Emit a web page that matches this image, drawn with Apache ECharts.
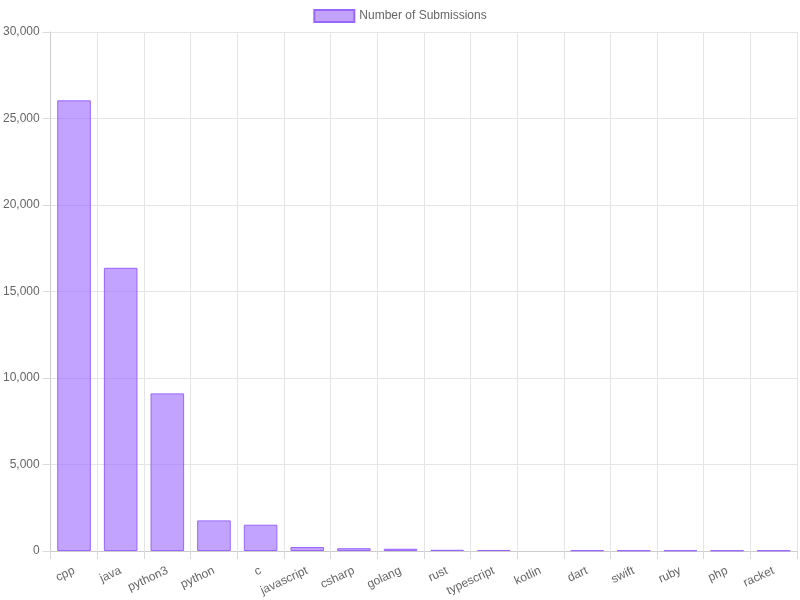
<!DOCTYPE html>
<html>
<head>
<meta charset="utf-8">
<script src="https://cdn.jsdelivr.net/npm/echarts@6/dist/echarts.min.js"></script>
<style>html,body{margin:0;padding:0;background:#fff}#c{width:800px;height:600px}</style>
</head>
<body>
<div id="c"></div>
<script>
const categories = ['cpp','java','python3','python','c','javascript','csharp','golang','rust','typescript','kotlin','dart','swift','ruby','php','racket'];
const submissions = [26050, 16370, 9110, 1770, 1520, 230, 160, 130, 70, 60, 0, 40, 35, 35, 30, 30];
const yTicks = [0, 5000, 10000, 15000, 20000, 25000, 30000];
const seriesName = 'Number of Submissions';

const chart = echarts.init(document.getElementById('c'));
const fontFam = 'Arial, "Liberation Sans", Helvetica, sans-serif';
const barData = submissions.map(v => v === 0
  ? {value: v, itemStyle: {borderWidth: 0}}
  : v);
chart.setOption({
  animation: false,
  textStyle: {fontFamily: fontFam},
  legend: {
    top: 9, left: 'center', padding: 0,
    icon: 'rect',
    itemWidth: 40, itemHeight: 12, itemGap: 10,
    textStyle: {color: '#666', fontSize: 12, fontFamily: fontFam},
    data: [seriesName]
  },
  grid: {left: 50, right: 3, top: 32, bottom: 49, containLabel: false},
  xAxis: {
    type: 'category',
    data: categories,
    boundaryGap: true,
    axisLine: {show: true, lineStyle: {color: '#cccccc', width: 1}},
    axisTick: {show: true, length: 8, inside: false, lineStyle: {color: '#d9d9d9', width: 1}},
    splitLine: {show: true, lineStyle: {color: '#e5e5e5', width: 1}},
    axisLabel: {color: '#666', fontSize: 12, rotate: 25, margin: 19, interval: 0, fontFamily: fontFam}
  },
  yAxis: {
    type: 'value',
    min: yTicks[0], max: yTicks[yTicks.length - 1], interval: 5000,
    axisLine: {show: true, lineStyle: {color: '#cccccc', width: 1}},
    axisTick: {show: true, length: 8, inside: false, lineStyle: {color: '#d9d9d9', width: 1}},
    splitLine: {show: true, lineStyle: {color: '#e5e5e5', width: 1}},
    axisLabel: {color: '#666', fontSize: 12, margin: 11, fontFamily: fontFam,
      formatter: v => v.toLocaleString('en-US')}
  },
  series: [{
    name: seriesName,
    type: 'bar',
    data: barData,
    barCategoryGap: '28%',
    itemStyle: {color: 'rgba(153,102,255,0.6)', borderColor: 'rgba(153,102,255,1)', borderWidth: 1}
  }]
});
</script>
</body>
</html>
